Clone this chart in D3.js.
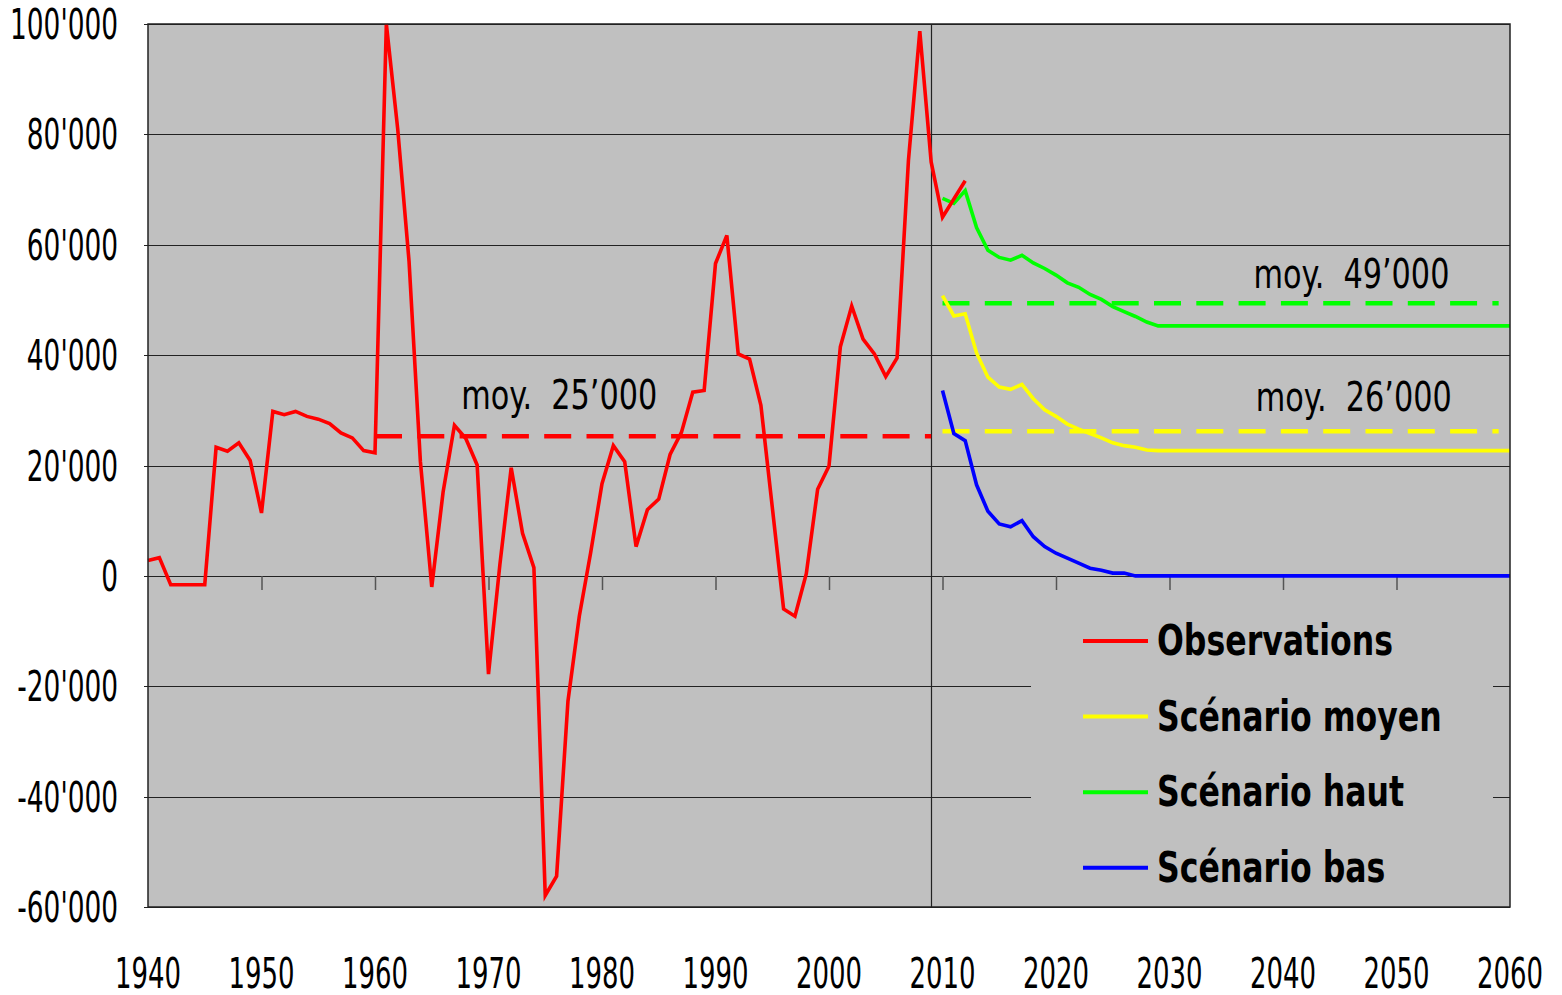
<!DOCTYPE html>
<html>
<head>
<meta charset="utf-8">
<script src="https://cdn.jsdelivr.net/npm/d3@7"></script>
<style>
  body { margin: 0; background: #fff; }
  svg { display: block; }
  text { font-family: "Liberation Sans Narrow", "Arial Narrow", "DejaVu Sans Condensed", sans-serif; white-space: pre; }
</style>
</head>
<body>
<div id="chart"></div>
<script>
// observed yearly values, 1940 .. 2012
const obsFirstYear = 1940;
const observations = [
    2800, 3300, -1600, -1600, -1600, -1600, 23300, 22600, 24100, 20900,
    11400, 29800, 29200, 29800, 28900, 28400, 27600, 25900, 25000, 22700,
    22300, 100000, 81000, 57000, 20700, -2000, 15200, 27300, 24900, 20100,
    -17800, 2000, 19600, 7700, 1500, -57900, -54400, -22700, -7300, 4200,
    16700, 23600, 20700, 5300, 12000, 13900, 22000, 26000, 33300, 33600,
    56600, 61700, 40200, 39300, 30900, 12500, -6000, -7300, 400, 15700,
    19900, 41500, 48900, 42900, 40200, 36100, 39500, 75300, 98700, 75000,
    65000, 68300, 71600
];

// scenarios
const scenarioYears = [2010, 2011, 2012, 2013, 2014, 2015, 2016, 2017, 2018, 2019,
    2020, 2021, 2022, 2023, 2024, 2025, 2026, 2027, 2028, 2029, 2030, 2060];
const scenarioHaut = [68400, 67500, 69800, 63100, 59000, 57700, 57200, 58100, 56700, 55700,
    54500, 53100, 52300, 51000, 50100, 48800, 47900, 47000, 46000, 45300, 45300, 45300];
const scenarioMoyen = [50800, 47100, 47500, 40400, 36000, 34200, 33800, 34700, 32100, 30100,
    28900, 27500, 26600, 25800, 25000, 24100, 23600, 23300, 22800, 22700, 22700, 22700];
const scenarioBas = [33600, 25800, 24500, 16500, 11700, 9400, 8900, 10000, 7100, 5300,
    4100, 3200, 2300, 1400, 1000, 500, 500, 0, 0, 0, 0, 0];

// averages (dashed lines)
const avgValues = [25300, 49400, 26200];
const avgFrom = [1960, 2010, 2010];
const avgTo = [2009, 2059, 2059];
const avgLabels = ["moy.  25\u2019000", "moy.  49\u2019000", "moy.  26\u2019000"];
const avgColors = ["#ff0000", "#00ff00", "#ffff00"];

const yTicks = [-60000, -40000, -20000, 0, 20000, 40000, 60000, 80000, 100000];
const xTicks = [1940, 1950, 1960, 1970, 1980, 1990, 2000, 2010, 2020, 2030, 2040, 2050, 2060];
const legendLabels = ["Observations", "Sc\u00e9nario moyen", "Sc\u00e9nario haut", "Sc\u00e9nario bas"];
const legendColors = ["#ff0000", "#ffff00", "#00ff00", "#0000ff"];

const width = 1562, height = 995;
const plot = {left: 148, top: 24, right: 1510, bottom: 907};

const svg = d3.select("#chart").append("svg")
    .attr("width", width)
    .attr("height", height);

const x = d3.scaleLinear().domain([1940, 2060]).range([plot.left, plot.right]);
const y = d3.scaleLinear().domain([-60000, 100000]).range([plot.bottom, plot.top]);

// squeeze a group of texts horizontally so that a reference text gets the wanted width
function squeeze(sel, refIndex, wanted) {
    const len = sel.nodes()[refIndex].getComputedTextLength();
    const k = wanted / len;
    sel.each(function () {
        const t = d3.select(this);
        t.attr("transform", "translate(" + t.attr("data-x") + "," + t.attr("data-y") + ") scale(" + k + ",1)");
    });
}

// plot background
svg.append("rect")
    .attr("x", plot.left).attr("y", plot.top)
    .attr("width", plot.right - plot.left).attr("height", plot.bottom - plot.top)
    .attr("fill", "#c0c0c0");

// gridlines
svg.append("g")
    .selectAll("line")
    .data(yTicks)
    .enter().append("line")
    .attr("x1", plot.left - 4).attr("x2", plot.right)
    .attr("y1", d => Math.round(y(d)) + 0.5).attr("y2", d => Math.round(y(d)) + 0.5)
    .attr("stroke", "#222")
    .attr("stroke-width", 1.2);

// ticks on the zero line
svg.append("g")
    .attr("transform", "translate(0," + Math.round(y(0)) + ")")
    .call(d3.axisBottom(x).tickValues(xTicks.slice(1, -1)).tickSize(14).tickFormat(""))
    .call(g => g.select(".domain").remove())
    .call(g => g.selectAll("line").attr("stroke", "#555").attr("stroke-width", 1.5));

// divider between observations and projections
svg.append("line")
    .attr("x1", Math.round(x(2009)) + 0.5).attr("x2", Math.round(x(2009)) + 0.5)
    .attr("y1", plot.top).attr("y2", plot.bottom)
    .attr("stroke", "#222").attr("stroke-width", 1.2);

// y labels
const fmt = d => d3.format(",")(d).replace(/,/g, "'").replace("\u2212", "-");
const yLabels = svg.append("g")
    .selectAll("text")
    .data(yTicks)
    .enter().append("text")
    .attr("data-x", 118)
    .attr("data-y", d => y(d) + 15)
    .attr("text-anchor", "end")
    .style("font-size", "42px")
    .attr("fill", "#000")
    .text(fmt);
squeeze(yLabels, yTicks.length - 1, 108);

// x labels
const xLabels = svg.append("g")
    .selectAll("text")
    .data(xTicks)
    .enter().append("text")
    .attr("data-x", d => x(d))
    .attr("data-y", 988)
    .attr("text-anchor", "middle")
    .style("font-size", "42px")
    .attr("fill", "#000")
    .text(d => d);
squeeze(xLabels, 0, 66);

// legend box hides the gridlines behind it
svg.append("rect")
    .attr("x", 1031).attr("y", 594)
    .attr("width", 462).attr("height", plot.bottom - 594 - 1)
    .attr("fill", "#c0c0c0");

// dashed averages
avgValues.forEach(function (v, i) {
    svg.append("line")
        .attr("x1", x(avgFrom[i])).attr("x2", x(avgTo[i]))
        .attr("y1", y(v)).attr("y2", y(v))
        .attr("stroke", avgColors[i])
        .attr("stroke-width", 4.5)
        .attr("stroke-dasharray", "27,15.3");
});

const labelPos = [[1967.6, -27], [2037.4, -15], [2037.6, -20]];
const avgText = svg.append("g")
    .selectAll("text")
    .data(avgLabels)
    .enter().append("text")
    .attr("data-x", (d, i) => x(labelPos[i][0]))
    .attr("data-y", (d, i) => y(avgValues[i]) + labelPos[i][1])
    .style("font-size", "41px")
    .attr("fill", "#000")
    .text(d => d);
squeeze(avgText, 0, 196);

const line = d3.line().x(d => x(d[0])).y(d => y(d[1]));

function drawSeries(data, color) {
    svg.append("path")
        .datum(data)
        .attr("d", line)
        .attr("fill", "none")
        .attr("stroke", color)
        .attr("stroke-width", 3.6)
        .attr("stroke-linejoin", "miter");
}

drawSeries(scenarioYears.map((yr, i) => [yr, scenarioBas[i]]), "#0000ff");
drawSeries(scenarioYears.map((yr, i) => [yr, scenarioMoyen[i]]), "#ffff00");
drawSeries(scenarioYears.map((yr, i) => [yr, scenarioHaut[i]]), "#00ff00");
drawSeries(observations.map((v, i) => [obsFirstYear + i, v]), "#ff0000");

// plot frame
svg.append("rect")
    .attr("x", plot.left).attr("y", plot.top)
    .attr("width", plot.right - plot.left).attr("height", plot.bottom - plot.top)
    .attr("fill", "none")
    .attr("stroke", "#222")
    .attr("stroke-width", 1.5);

// legend
const legend = svg.append("g")
    .selectAll("g")
    .data(legendLabels)
    .enter().append("g")
    .attr("transform", (d, i) => "translate(1083," + (641 + i * 75.6) + ")");

legend.append("line")
    .attr("x1", 0).attr("x2", 65)
    .attr("stroke", (d, i) => legendColors[i])
    .attr("stroke-width", 4);

const legendText = legend.append("text")
    .attr("data-x", 74)
    .attr("data-y", 14)
    .style("font-size", "43px")
    .style("font-weight", "bold")
    .attr("fill", "#000")
    .text(d => d);
squeeze(legendText, 0, 236);
</script>
</body>
</html>
